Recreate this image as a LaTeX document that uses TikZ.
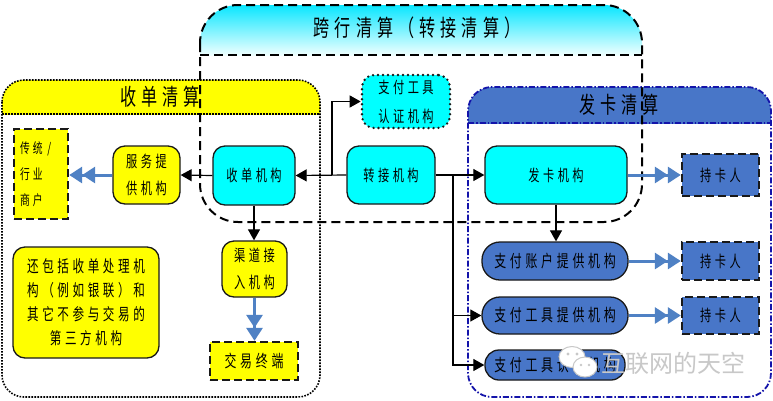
\documentclass[tikz,border=0pt]{standalone}
\usepackage{fontspec}
\newfontfamily\cjk[FakeStretch=0.7,LetterSpace=22]{Noto Sans CJK SC}
\newfontfamily\cjkn{Noto Sans CJK SC}
\usetikzlibrary{arrows.meta,calc}
\definecolor{cyanf}{RGB}{0,255,255}
\definecolor{yelf}{RGB}{255,255,0}
\definecolor{nodeblue}{RGB}{72,118,200}
\definecolor{arrblue}{RGB}{79,129,196}
\definecolor{issueline}{RGB}{20,20,170}
\definecolor{wmgray}{RGB}{200,200,200}
\newcommand\myNodeFont{\cjk\fontsize{16}{27}\selectfont}
\newcommand\myHeadFont{\cjk\fontsize{23}{26}\selectfont}
\tikzset{
  base/.style={draw=black!90, line width=1.3pt, inner sep=0pt, font=\myNodeFont, align=center, text=black},
  cyanbox/.style={base, fill=cyanf, rounded corners=12pt},
  yelbox/.style={base, fill=yelf, rounded corners=12pt},
  bluebox/.style={base, fill=nodeblue, rounded corners=18pt, font=\cjk\fontsize{17}{20}\selectfont},
  yeldash/.style={base, fill=yelf, line width=2.4pt, dash pattern=on 8pt off 4pt},
  bluedash/.style={base, fill=nodeblue, line width=2.4pt, dash pattern=on 8pt off 4pt, font=\cjk\fontsize{16}{20}\selectfont},
  dotbox/.style={base, fill=cyanf, rounded corners=12pt, line width=2.6pt, dash pattern=on 0pt off 5pt, line cap=round},
  blk/.style={draw=black, line width=1.2pt, -{Triangle[length=11pt,width=12pt]}},
  bluearr/.style={draw=arrblue, line width=3pt, -{Triangle[length=13pt,width=16pt]Triangle[length=13pt,width=16pt]}},
  headtxt/.style={font=\myHeadFont, inner sep=0pt, text=black},
}
\begin{document}
\begin{tikzpicture}[x=1pt,y=-1pt]
\useasboundingbox (0,0) rectangle (773,400);
\fill[white] (0,0) rectangle (773,400);

% ---------- acquiring region ----------
\begin{scope}
  \clip (0,78) rectangle (330,114);
  \fill[yelf, rounded corners=22pt] (2,80) rectangle (320,397);
\end{scope}
\draw[line width=1.6pt, dash pattern=on 1.6pt off 1.4pt, rounded corners=22pt] (2,80) rectangle (320,397);
\draw[line width=1.6pt, dash pattern=on 1.6pt off 1.4pt] (2,114) -- (320,114);
\node[headtxt] (hsd) at (160,97) {收单清算};

% ---------- issuing region ----------
\begin{scope}
  \clip (460,85) rectangle (773,123);
  \fill[nodeblue, rounded corners=24pt] (468,87) rectangle (771,397);
\end{scope}
\draw[issueline, line width=1.8pt, dash pattern=on 6pt off 2pt on 1.5pt off 2pt, rounded corners=24pt] (468,87) rectangle (771,397);
\draw[issueline, line width=1.8pt, dash pattern=on 6pt off 2pt on 1.5pt off 2pt] (468,123) -- (771,123);
\node[headtxt] (hfk) at (619,105) {发卡清算};

% ---------- cross-bank region ----------
\begin{scope}
  \clip[rounded corners=38pt] (200,5) rectangle (642,222);
  \shade[top color=cyanf!90!blue, bottom color=cyanf!6] (195,3) rectangle (650,55);
\end{scope}
\draw[line width=2pt, dash pattern=on 9pt off 5pt, rounded corners=38pt] (200,5) rectangle (642,222);
\draw[line width=2pt, dash pattern=on 9pt off 5pt] (200,55) -- (642,55);
\node[headtxt] (hkh) at (417,28) {跨行清算（转接清算）};

% ---------- nodes ----------
\node[yeldash, minimum width=54, minimum height=90, text width=42pt, align=left, font=\cjk\fontsize{14}{26}\selectfont] (ct) at (41,174) {传统 /\\行业\\商户};
\node[yelbox, minimum width=67, minimum height=58] (fw) at (146.5,175) {服务提\\供机构};
\node[cyanbox, minimum width=82, minimum height=59] (sd) at (254,175.5) {收单机构};
\node[cyanbox, minimum width=88, minimum height=58] (zj) at (391,175) {转接机构};
\node[cyanbox, minimum width=142, minimum height=58] (fk) at (556,175) {发卡机构};
\node[bluedash, minimum width=77, minimum height=42] (ck1) at (720.5,175) {持卡人};
\node[dotbox, minimum width=88, minimum height=53, font=\cjk\fontsize{16}{29}\selectfont] (rz1) at (406,101.5) {支付工具\\认证机构};
\node[yelbox, minimum width=65, minimum height=56] (qd) at (254.5,269) {渠道接\\入机构};
\node[yeldash, minimum width=88, minimum height=38, font=\cjk\fontsize{17}{20}\selectfont] (jy) at (254,361) {交易终端};
\node[yelbox, minimum width=146, minimum height=111, font=\cjk\fontsize{16.5}{24}\selectfont] (hb) at (86,302.5) {还包括收单处理机\\构（例如银联）和\\其它不参与交易的\\第三方机构};
\node[bluebox, minimum width=146, minimum height=38] (zhtg) at (555,261) {支付账户提供机构};
\node[bluedash, minimum width=77, minimum height=38] (ck2) at (720.5,261) {持卡人};
\node[bluebox, minimum width=146, minimum height=37] (gjtg) at (555,315.5) {支付工具提供机构};
\node[bluedash, minimum width=77, minimum height=37] (ck3) at (720.5,315.5) {持卡人};
\node[bluebox, minimum width=140, minimum height=30, rounded corners=14pt] (gjrz) at (555,365) {支付工具认证机构};

% ---------- connectors ----------
\coordinate (b1) at (332,175);
\coordinate (b2) at (453,175);
\draw[blk] (sd.west) -- (fw.east);
\draw[blk] (zj.west) -- (sd.east);
\draw[blk] (b1) |- (rz1.west);
\draw[blk] (zj.east) -- (fk.west);
\draw[blk] (b2) |- (gjtg.west);
\draw[blk] (b2) |- (gjrz.west);
\draw[blk] (fk.south) -- (fk.south |- zhtg.north);
\draw[blk] (sd.south) -- (sd.south |- qd.north);

\draw[bluearr] (fw.west) -- (ct.east |- fw.west);
\draw[bluearr] (qd.south) -- (qd.south |- jy.north);
\draw[bluearr] (fk.east) -- (ck1.west);
\draw[bluearr] (zhtg.east) -- (ck2.west);
\draw[bluearr] (gjtg.east) -- (ck3.west);

% ---------- watermark ----------
\fill[white, draw=wmgray, line width=1pt] (572,357) ellipse [x radius=13, y radius=10.5];
\fill[white, draw=wmgray, line width=1pt] (585,367) ellipse [x radius=12, y radius=10];
\fill[wmgray] (568,354) circle (1.6) (577,354) circle (1.6) (581,365) circle (1.4) (589,365) circle (1.4);
\node[font=\cjkn\fontsize{24}{28}\selectfont, text=wmgray, inner sep=0pt] (wm) at (673,363) {互联网的天空};
\end{tikzpicture}
\end{document}
